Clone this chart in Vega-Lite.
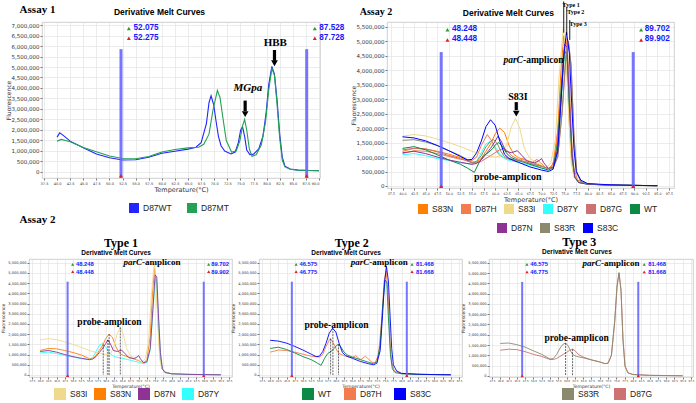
{
"$schema": "https://vega.github.io/schema/vega-lite/v6.json",
"padding": {"left": 0, "top": 0, "right": 0, "bottom": 0},
"background": "white",
"config": {
 "view": {"stroke": "#c4c4c4", "strokeWidth": 0.8},
 "axis": {"grid": true, "gridColor": "#e4e4e4", "gridWidth": 0.7, "domain": false, "tickColor": "#777", "tickSize": 2, "labelColor": "#333", "titleColor": "#333", "labelFont": "DejaVu Sans", "titleFont": "DejaVu Sans", "titleFontWeight": "normal"},
 "legend": {"orient": "none", "direction": "horizontal", "title": null, "symbolType": "square", "symbolOpacity": 1, "labelFont": "Liberation Sans", "labelColor": "#222", "padding": 0, "labelOffset": 4},
 "text": {"font": "Liberation Serif"}
},
"datasets": {
 "a1": [
  {"s":"D87WT","t":40,"f":1660000},{"s":"D87WT","t":40.5,"f":1870000},{"s":"D87WT","t":41,"f":1780000},{"s":"D87WT","t":42.5,"f":1470000},{"s":"D87WT","t":45,"f":1150000},{"s":"D87WT","t":47.5,"f":860000},{"s":"D87WT","t":50,"f":680000},{"s":"D87WT","t":52.5,"f":570000},{"s":"D87WT","t":55,"f":580000},{"s":"D87WT","t":57.5,"f":700000},{"s":"D87WT","t":60,"f":890000},{"s":"D87WT","t":62.5,"f":990000},{"s":"D87WT","t":65,"f":1090000},{"s":"D87WT","t":66.5,"f":1180000},{"s":"D87WT","t":67.5,"f":1400000},{"s":"D87WT","t":68.5,"f":2300000},{"s":"D87WT","t":69,"f":3300000},{"s":"D87WT","t":69.4,"f":3630000},{"s":"D87WT","t":69.9,"f":3200000},{"s":"D87WT","t":70.3,"f":2500000},{"s":"D87WT","t":70.8,"f":1700000},{"s":"D87WT","t":71.3,"f":1250000},{"s":"D87WT","t":72,"f":1000000},{"s":"D87WT","t":73.2,"f":860000},{"s":"D87WT","t":74,"f":950000},{"s":"D87WT","t":74.6,"f":1400000},{"s":"D87WT","t":75.05,"f":2000000},{"s":"D87WT","t":75.4,"f":2150000},{"s":"D87WT","t":75.8,"f":1700000},{"s":"D87WT","t":76.2,"f":1050000},{"s":"D87WT","t":76.8,"f":830000},{"s":"D87WT","t":77.5,"f":850000},{"s":"D87WT","t":78.5,"f":1100000},{"s":"D87WT","t":79.3,"f":1700000},{"s":"D87WT","t":79.9,"f":2800000},{"s":"D87WT","t":80.4,"f":4150000},{"s":"D87WT","t":81,"f":5030000},{"s":"D87WT","t":81.5,"f":4650000},{"s":"D87WT","t":82,"f":3400000},{"s":"D87WT","t":82.5,"f":1800000},{"s":"D87WT","t":83,"f":700000},{"s":"D87WT","t":83.5,"f":280000},{"s":"D87WT","t":84.5,"f":140000},{"s":"D87WT","t":86,"f":90000},{"s":"D87WT","t":88,"f":70000},{"s":"D87WT","t":90,"f":60000},
  {"s":"D87MT","t":40,"f":1470000},{"s":"D87MT","t":40.8,"f":1550000},{"s":"D87MT","t":42.5,"f":1440000},{"s":"D87MT","t":45,"f":1170000},{"s":"D87MT","t":47.5,"f":960000},{"s":"D87MT","t":50,"f":760000},{"s":"D87MT","t":52.5,"f":640000},{"s":"D87MT","t":55,"f":630000},{"s":"D87MT","t":57.5,"f":740000},{"s":"D87MT","t":60,"f":950000},{"s":"D87MT","t":62.5,"f":1070000},{"s":"D87MT","t":65,"f":1150000},{"s":"D87MT","t":67,"f":1180000},{"s":"D87MT","t":68,"f":1320000},{"s":"D87MT","t":69,"f":1800000},{"s":"D87MT","t":69.8,"f":3000000},{"s":"D87MT","t":70.6,"f":3880000},{"s":"D87MT","t":71.1,"f":3550000},{"s":"D87MT","t":71.7,"f":2500000},{"s":"D87MT","t":72.3,"f":1500000},{"s":"D87MT","t":73.3,"f":950000},{"s":"D87MT","t":74.2,"f":1000000},{"s":"D87MT","t":74.9,"f":1500000},{"s":"D87MT","t":75.4,"f":2200000},{"s":"D87MT","t":75.8,"f":2500000},{"s":"D87MT","t":76.2,"f":2000000},{"s":"D87MT","t":76.7,"f":1100000},{"s":"D87MT","t":77.2,"f":750000},{"s":"D87MT","t":78,"f":820000},{"s":"D87MT","t":79,"f":1300000},{"s":"D87MT","t":79.8,"f":2400000},{"s":"D87MT","t":80.4,"f":3900000},{"s":"D87MT","t":81,"f":4930000},{"s":"D87MT","t":81.5,"f":4600000},{"s":"D87MT","t":82,"f":3200000},{"s":"D87MT","t":82.5,"f":1600000},{"s":"D87MT","t":83,"f":550000},{"s":"D87MT","t":83.5,"f":240000},{"s":"D87MT","t":84.5,"f":130000},{"s":"D87MT","t":86,"f":90000},{"s":"D87MT","t":88,"f":70000},{"s":"D87MT","t":90,"f":60000}
 ],
 "a2": [
  {"s":"S83N","t":40,"f":1200000},{"s":"S83N","t":42.5,"f":1300000},{"s":"S83N","t":45,"f":1280000},{"s":"S83N","t":47.5,"f":1200000},{"s":"S83N","t":50,"f":1100000},{"s":"S83N","t":52.5,"f":980000},{"s":"S83N","t":55,"f":800000},{"s":"S83N","t":56,"f":820000},{"s":"S83N","t":57,"f":950000},{"s":"S83N","t":58,"f":1200000},{"s":"S83N","t":59,"f":1450000},{"s":"S83N","t":60,"f":1800000},{"s":"S83N","t":61,"f":2000000},{"s":"S83N","t":62,"f":1850000},{"s":"S83N","t":63,"f":1400000},{"s":"S83N","t":64,"f":1100000},{"s":"S83N","t":65,"f":980000},{"s":"S83N","t":67.5,"f":850000},{"s":"S83N","t":70,"f":700000},{"s":"S83N","t":71.5,"f":600000},{"s":"S83N","t":72.5,"f":750000},{"s":"S83N","t":73.5,"f":1900000},{"s":"S83N","t":74.2,"f":4000000},{"s":"S83N","t":74.8,"f":5200000},{"s":"S83N","t":75.4,"f":4400000},{"s":"S83N","t":76,"f":2200000},{"s":"S83N","t":76.5,"f":900000},{"s":"S83N","t":77.2,"f":300000},{"s":"S83N","t":78,"f":150000},{"s":"S83N","t":80,"f":60000},{"s":"S83N","t":85,"f":30000},{"s":"S83N","t":90,"f":20000},{"s":"S83N","t":95,"f":10000},
  {"s":"D87H","t":40,"f":1120000},{"s":"D87H","t":42.5,"f":1220000},{"s":"D87H","t":45,"f":1200000},{"s":"D87H","t":47.5,"f":1120000},{"s":"D87H","t":50,"f":1020000},{"s":"D87H","t":52.5,"f":920000},{"s":"D87H","t":55,"f":880000},{"s":"D87H","t":56,"f":1000000},{"s":"D87H","t":57,"f":1400000},{"s":"D87H","t":58.3,"f":1780000},{"s":"D87H","t":59.3,"f":1550000},{"s":"D87H","t":60.3,"f":1200000},{"s":"D87H","t":61,"f":1050000},{"s":"D87H","t":62,"f":980000},{"s":"D87H","t":63,"f":920000},{"s":"D87H","t":65,"f":850000},{"s":"D87H","t":66,"f":950000},{"s":"D87H","t":66.7,"f":850000},{"s":"D87H","t":67.5,"f":750000},{"s":"D87H","t":69,"f":920000},{"s":"D87H","t":69.8,"f":800000},{"s":"D87H","t":71,"f":620000},{"s":"D87H","t":72,"f":620000},{"s":"D87H","t":73,"f":1000000},{"s":"D87H","t":74,"f":2800000},{"s":"D87H","t":74.7,"f":4600000},{"s":"D87H","t":75.3,"f":5100000},{"s":"D87H","t":75.9,"f":4000000},{"s":"D87H","t":76.5,"f":1600000},{"s":"D87H","t":77,"f":600000},{"s":"D87H","t":77.8,"f":200000},{"s":"D87H","t":80,"f":70000},{"s":"D87H","t":85,"f":30000},{"s":"D87H","t":90,"f":20000},{"s":"D87H","t":95,"f":10000},
  {"s":"S83I","t":40,"f":1720000},{"s":"S83I","t":42.5,"f":1780000},{"s":"S83I","t":45,"f":1730000},{"s":"S83I","t":47.5,"f":1620000},{"s":"S83I","t":50,"f":1500000},{"s":"S83I","t":52.5,"f":1360000},{"s":"S83I","t":55,"f":1200000},{"s":"S83I","t":57.5,"f":1080000},{"s":"S83I","t":60,"f":1000000},{"s":"S83I","t":61.5,"f":1050000},{"s":"S83I","t":62.5,"f":1450000},{"s":"S83I","t":63.5,"f":2050000},{"s":"S83I","t":64.4,"f":2330000},{"s":"S83I","t":65.3,"f":2000000},{"s":"S83I","t":66.3,"f":1300000},{"s":"S83I","t":67.5,"f":950000},{"s":"S83I","t":68.5,"f":850000},{"s":"S83I","t":70,"f":720000},{"s":"S83I","t":71,"f":620000},{"s":"S83I","t":72,"f":800000},{"s":"S83I","t":73,"f":1600000},{"s":"S83I","t":73.8,"f":3800000},{"s":"S83I","t":74.7,"f":5450000},{"s":"S83I","t":75.3,"f":4600000},{"s":"S83I","t":75.9,"f":2300000},{"s":"S83I","t":76.4,"f":800000},{"s":"S83I","t":77,"f":300000},{"s":"S83I","t":78,"f":150000},{"s":"S83I","t":80,"f":60000},{"s":"S83I","t":85,"f":30000},{"s":"S83I","t":90,"f":20000},{"s":"S83I","t":95,"f":10000},
  {"s":"D87Y","t":40,"f":1080000},{"s":"D87Y","t":42.5,"f":1120000},{"s":"D87Y","t":45,"f":1050000},{"s":"D87Y","t":47.5,"f":950000},{"s":"D87Y","t":50,"f":880000},{"s":"D87Y","t":52.5,"f":800000},{"s":"D87Y","t":55,"f":750000},{"s":"D87Y","t":56,"f":850000},{"s":"D87Y","t":57,"f":1150000},{"s":"D87Y","t":58,"f":1450000},{"s":"D87Y","t":59,"f":1550000},{"s":"D87Y","t":60,"f":1350000},{"s":"D87Y","t":61,"f":1100000},{"s":"D87Y","t":62,"f":950000},{"s":"D87Y","t":63,"f":880000},{"s":"D87Y","t":65,"f":820000},{"s":"D87Y","t":67.5,"f":720000},{"s":"D87Y","t":70,"f":620000},{"s":"D87Y","t":71.5,"f":550000},{"s":"D87Y","t":72.5,"f":620000},{"s":"D87Y","t":73.5,"f":1200000},{"s":"D87Y","t":74.3,"f":3000000},{"s":"D87Y","t":75,"f":4700000},{"s":"D87Y","t":75.5,"f":4600000},{"s":"D87Y","t":76,"f":2800000},{"s":"D87Y","t":76.6,"f":1000000},{"s":"D87Y","t":77.2,"f":300000},{"s":"D87Y","t":78,"f":120000},{"s":"D87Y","t":80,"f":60000},{"s":"D87Y","t":85,"f":30000},{"s":"D87Y","t":90,"f":20000},{"s":"D87Y","t":95,"f":10000},
  {"s":"D87G","t":40,"f":1250000},{"s":"D87G","t":42.5,"f":1300000},{"s":"D87G","t":45,"f":1280000},{"s":"D87G","t":47.5,"f":1180000},{"s":"D87G","t":50,"f":1050000},{"s":"D87G","t":52.5,"f":950000},{"s":"D87G","t":55,"f":800000},{"s":"D87G","t":56,"f":800000},{"s":"D87G","t":57,"f":850000},{"s":"D87G","t":58,"f":950000},{"s":"D87G","t":59,"f":1050000},{"s":"D87G","t":60,"f":1150000},{"s":"D87G","t":61,"f":1250000},{"s":"D87G","t":61.8,"f":1300000},{"s":"D87G","t":62.6,"f":1220000},{"s":"D87G","t":63.5,"f":1050000},{"s":"D87G","t":65,"f":920000},{"s":"D87G","t":67.5,"f":780000},{"s":"D87G","t":70,"f":680000},{"s":"D87G","t":71.5,"f":600000},{"s":"D87G","t":72.5,"f":620000},{"s":"D87G","t":73.5,"f":1000000},{"s":"D87G","t":74.5,"f":2600000},{"s":"D87G","t":75.2,"f":4300000},{"s":"D87G","t":75.8,"f":5000000},{"s":"D87G","t":76.4,"f":4200000},{"s":"D87G","t":77,"f":1800000},{"s":"D87G","t":77.6,"f":500000},{"s":"D87G","t":78.5,"f":150000},{"s":"D87G","t":80,"f":70000},{"s":"D87G","t":85,"f":30000},{"s":"D87G","t":90,"f":20000},{"s":"D87G","t":95,"f":10000},
  {"s":"WT","t":40,"f":1300000},{"s":"WT","t":42.5,"f":1360000},{"s":"WT","t":45,"f":1250000},{"s":"WT","t":47.5,"f":1080000},{"s":"WT","t":50,"f":900000},{"s":"WT","t":52.5,"f":750000},{"s":"WT","t":54,"f":620000},{"s":"WT","t":55.5,"f":470000},{"s":"WT","t":56.5,"f":800000},{"s":"WT","t":57.5,"f":1050000},{"s":"WT","t":58.5,"f":1150000},{"s":"WT","t":59.5,"f":1300000},{"s":"WT","t":60.2,"f":1450000},{"s":"WT","t":60.8,"f":1500000},{"s":"WT","t":61.5,"f":1380000},{"s":"WT","t":62.5,"f":1120000},{"s":"WT","t":63.5,"f":980000},{"s":"WT","t":65,"f":880000},{"s":"WT","t":67.5,"f":750000},{"s":"WT","t":70,"f":620000},{"s":"WT","t":71.5,"f":550000},{"s":"WT","t":72.5,"f":650000},{"s":"WT","t":73.5,"f":1500000},{"s":"WT","t":74.3,"f":3500000},{"s":"WT","t":75,"f":4650000},{"s":"WT","t":75.5,"f":4550000},{"s":"WT","t":76,"f":2800000},{"s":"WT","t":76.6,"f":1000000},{"s":"WT","t":77.2,"f":300000},{"s":"WT","t":78,"f":120000},{"s":"WT","t":80,"f":60000},{"s":"WT","t":85,"f":30000},{"s":"WT","t":90,"f":20000},{"s":"WT","t":95,"f":10000},
  {"s":"D87N","t":40,"f":1150000},{"s":"D87N","t":42.5,"f":1200000},{"s":"D87N","t":45,"f":1120000},{"s":"D87N","t":47.5,"f":1000000},{"s":"D87N","t":50,"f":900000},{"s":"D87N","t":52.5,"f":820000},{"s":"D87N","t":55,"f":750000},{"s":"D87N","t":56,"f":780000},{"s":"D87N","t":57,"f":900000},{"s":"D87N","t":58,"f":1100000},{"s":"D87N","t":59,"f":1300000},{"s":"D87N","t":60,"f":1550000},{"s":"D87N","t":60.6,"f":1720000},{"s":"D87N","t":61.3,"f":1550000},{"s":"D87N","t":62.3,"f":1200000},{"s":"D87N","t":63.5,"f":1150000},{"s":"D87N","t":64.8,"f":1220000},{"s":"D87N","t":65.8,"f":1050000},{"s":"D87N","t":67,"f":850000},{"s":"D87N","t":68.5,"f":800000},{"s":"D87N","t":69.5,"f":880000},{"s":"D87N","t":70,"f":950000},{"s":"D87N","t":70.5,"f":800000},{"s":"D87N","t":71.5,"f":600000},{"s":"D87N","t":72.5,"f":650000},{"s":"D87N","t":73.5,"f":1300000},{"s":"D87N","t":74.3,"f":3200000},{"s":"D87N","t":75,"f":4900000},{"s":"D87N","t":75.5,"f":4800000},{"s":"D87N","t":76,"f":3000000},{"s":"D87N","t":76.6,"f":1100000},{"s":"D87N","t":77.2,"f":300000},{"s":"D87N","t":78,"f":120000},{"s":"D87N","t":80,"f":60000},{"s":"D87N","t":85,"f":30000},{"s":"D87N","t":90,"f":20000},{"s":"D87N","t":95,"f":10000},
  {"s":"S83R","t":40,"f":1580000},{"s":"S83R","t":42.5,"f":1600000},{"s":"S83R","t":45,"f":1520000},{"s":"S83R","t":47.5,"f":1400000},{"s":"S83R","t":50,"f":1220000},{"s":"S83R","t":52.5,"f":1050000},{"s":"S83R","t":55,"f":820000},{"s":"S83R","t":56,"f":850000},{"s":"S83R","t":57,"f":1050000},{"s":"S83R","t":58,"f":1350000},{"s":"S83R","t":59,"f":1550000},{"s":"S83R","t":59.7,"f":1600000},{"s":"S83R","t":60.5,"f":1450000},{"s":"S83R","t":61.3,"f":1180000},{"s":"S83R","t":62,"f":1020000},{"s":"S83R","t":63,"f":950000},{"s":"S83R","t":65,"f":880000},{"s":"S83R","t":67.5,"f":780000},{"s":"S83R","t":70,"f":680000},{"s":"S83R","t":71.5,"f":600000},{"s":"S83R","t":72.5,"f":620000},{"s":"S83R","t":73.5,"f":1000000},{"s":"S83R","t":74.5,"f":2700000},{"s":"S83R","t":75.2,"f":4400000},{"s":"S83R","t":75.8,"f":5020000},{"s":"S83R","t":76.4,"f":4100000},{"s":"S83R","t":77,"f":1700000},{"s":"S83R","t":77.6,"f":450000},{"s":"S83R","t":78.5,"f":150000},{"s":"S83R","t":80,"f":70000},{"s":"S83R","t":85,"f":30000},{"s":"S83R","t":90,"f":20000},{"s":"S83R","t":95,"f":10000},
  {"s":"S83C","t":40,"f":1700000},{"s":"S83C","t":42.5,"f":1660000},{"s":"S83C","t":45,"f":1560000},{"s":"S83C","t":47.5,"f":1400000},{"s":"S83C","t":50,"f":1220000},{"s":"S83C","t":52.5,"f":1020000},{"s":"S83C","t":54,"f":900000},{"s":"S83C","t":55,"f":920000},{"s":"S83C","t":56,"f":1150000},{"s":"S83C","t":57,"f":1550000},{"s":"S83C","t":58,"f":2050000},{"s":"S83C","t":59,"f":2290000},{"s":"S83C","t":60,"f":2100000},{"s":"S83C","t":61,"f":1550000},{"s":"S83C","t":62,"f":1100000},{"s":"S83C","t":63,"f":950000},{"s":"S83C","t":64,"f":880000},{"s":"S83C","t":65,"f":820000},{"s":"S83C","t":67.5,"f":660000},{"s":"S83C","t":70,"f":550000},{"s":"S83C","t":71.5,"f":500000},{"s":"S83C","t":72.5,"f":580000},{"s":"S83C","t":73.5,"f":1200000},{"s":"S83C","t":74.2,"f":2900000},{"s":"S83C","t":74.8,"f":4500000},{"s":"S83C","t":75.4,"f":5320000},{"s":"S83C","t":76,"f":4600000},{"s":"S83C","t":76.5,"f":2900000},{"s":"S83C","t":77,"f":1300000},{"s":"S83C","t":77.5,"f":500000},{"s":"S83C","t":78.5,"f":200000},{"s":"S83C","t":80,"f":80000},{"s":"S83C","t":85,"f":40000},{"s":"S83C","t":90,"f":20000},{"s":"S83C","t":95,"f":10000}
 ]
},
"spacing": -8,
"resolve": {"scale": {"color": "independent"}},
"vconcat": [
 {
  "spacing": 12,
  "bounds": "flush",
  "resolve": {"scale": {"color": "independent"}},
  "hconcat": [
   {"width": 1, "height": 1, "view": {"stroke": null}, "data": {"values": [{"a": 0}]}, "mark": {"type": "point", "opacity": 0}, "encoding": {}},
   {
    "spacing": 67,
    "bounds": "flush",
    "resolve": {"scale": {"color": "independent"}},
    "hconcat": [
     {
      "width": 278, "height": 156,
      "encoding": {
       "x": {"field": "t", "type": "quantitative", "scale": {"domain": [37.12, 90.19], "nice": false, "zero": false},
             "axis": {"values": [37.5,40,42.5,45,47.5,50,52.5,55,57.5,60,62.5,65,67.5,70,72.5,75,77.5,80,82.5,85,87.5,90], "labelExpr": "format(datum.value, '.1f')", "labelFontSize": 3.5, "labelPadding": 1, "title": "Temperature(°C)", "titleFontSize": 6.5, "titlePadding": 2}},
       "y": {"field": "f", "type": "quantitative", "scale": {"domain": [-286000, 7143000], "nice": false, "zero": false},
             "axis": {"values": [0,500000,1000000,1500000,2000000,2500000,3000000,3500000,4000000,4500000,5000000,5500000,6000000,6500000,7000000], "labelExpr": "format(datum.value, ',')", "labelFontSize": 5.5, "labelPadding": 1, "title": "Fluorescence", "titleFontSize": 6, "titlePadding": 0}}
      },
      "layer": [
       {"data": {"name": "a1"}, "mark": {"type": "line", "strokeWidth": 1.1},
        "encoding": {"color": {"field": "s", "type": "nominal", "scale": {"domain": ["D87WT", "D87MT"], "range": ["#2424ff", "#23a155"]},
          "legend": {"legendX": 87, "legendY": 181, "symbolSize": 16, "symbolStrokeWidth": 6, "labelFontSize": 8.5, "columnPadding": 6}}}},
       {"data": {"values": [{"t": 52.2, "f": 5850000}, {"t": 87.65, "f": 5850000}]}, "mark": {"type": "rule", "color": "#6666ff", "strokeWidth": 3, "opacity": 0.9}, "encoding": {"y2": {"datum": -286000}}},
       {"data": {"values": [{"t": 53.7, "f": 6830000}, {"t": 89.2, "f": 6830000}]}, "mark": {"type": "point", "shape": "triangle-up", "filled": true, "color": "#2a9d2a", "size": 16, "opacity": 1}},
       {"data": {"values": [{"t": 53.7, "f": 6370000}, {"t": 89.2, "f": 6370000}, {"t": 52.2, "f": -180000}, {"t": 87.65, "f": -180000}]}, "mark": {"type": "point", "shape": "triangle-up", "filled": true, "color": "#e02020", "size": 16, "opacity": 1}},
       {"data": {"values": [{"t": 54.6, "f": 6840000, "label": "52.075"}, {"t": 54.6, "f": 6370000, "label": "52.275"}, {"t": 90.06, "f": 6840000, "label": "87.528"}, {"t": 90.06, "f": 6370000, "label": "87.728"}]},
        "mark": {"type": "text", "align": "left", "baseline": "middle", "font": "Liberation Sans", "fontSize": 8.2, "fontWeight": "bold", "color": "#1818ff"}, "encoding": {"text": {"field": "label"}}},
       {"data": {"values": [{"t": 81.5, "f": 5810000, "f2": 5300000}, {"t": 75.9, "f": 3400000, "f2": 2900000}]}, "mark": {"type": "rule", "color": "#000", "strokeWidth": 3.2}, "encoding": {"y2": {"field": "f2"}}},
       {"data": {"values": [{"t": 81.5, "f": 5180000}, {"t": 75.9, "f": 2760000}]}, "mark": {"type": "point", "shape": "triangle-down", "filled": true, "color": "#000", "size": 45, "opacity": 1}},
       {"data": {"values": [{"t": 59.55, "f": 7620000, "label": "Derivative Melt Curves"}]}, "mark": {"type": "text", "font": "Liberation Sans", "fontSize": 8.5, "fontWeight": "bold", "color": "#000"}, "encoding": {"text": {"field": "label"}}},
       {"data": {"values": [{"t": 81.66, "f": 6160000, "label": "HBB"}]}, "mark": {"type": "text", "fontSize": 11, "fontWeight": "bold", "color": "#000"}, "encoding": {"text": {"field": "label"}}},
       {"data": {"values": [{"t": 76.4, "f": 3980000, "label": "MGpa"}]}, "mark": {"type": "text", "fontSize": 11, "fontWeight": "bold", "fontStyle": "italic", "color": "#000"}, "encoding": {"text": {"field": "label"}}},
       {"data": {"values": [{"t": 36.26, "f": 7710000, "label": "Assay 1"}, {"t": 36.26, "f": -2290000, "label": "Assay 2"}]}, "mark": {"type": "text", "fontSize": 11, "fontWeight": "bold", "color": "#000"}, "encoding": {"text": {"field": "label"}}}
      ]
     },
     {
      "width": 287, "height": 166,
      "resolve": {"scale": {"color": "independent"}},
      "encoding": {
       "x": {"field": "t", "type": "quantitative", "scale": {"domain": [36.65, 98.6], "nice": false, "zero": false},
             "axis": {"values": [37.5,40,42.5,45,47.5,50,52.5,55,57.5,60,62.5,65,67.5,70,72.5,75,77.5,80,82.5,85,87.5,90,92.5,95,97.5], "labelExpr": "format(datum.value, '.1f')", "labelFontSize": 3.3, "labelPadding": 1, "title": "Temperature(°C)", "titleFontSize": 6.5, "titlePadding": 2}},
       "y": {"field": "f", "type": "quantitative", "scale": {"domain": [-70000, 5670000], "nice": false, "zero": false},
             "axis": {"values": [0,500000,1000000,1500000,2000000,2500000,3000000,3500000,4000000,4500000,5000000,5500000], "labelExpr": "format(datum.value, ',')", "labelFontSize": 5.5, "labelPadding": 1, "title": "Fluorescence", "titleFontSize": 6, "titlePadding": 0}}
      },
      "layer": [
       {"data": {"name": "a2"}, "transform": [{"filter": {"field": "s", "oneOf": ["S83N", "D87H", "S83I", "D87Y", "D87G", "WT"]}}], "mark": {"type": "line", "strokeWidth": 1},
        "encoding": {"color": {"field": "s", "type": "nominal", "scale": {"domain": ["S83N", "D87H", "S83I", "D87Y", "D87G", "WT"], "range": ["#ff8000", "#f47c4c", "#efd98c", "#33ffff", "#cc7272", "#0b8a45"]},
          "legend": {"legendX": 31, "legendY": 182, "symbolSize": 16, "symbolStrokeWidth": 6, "labelFontSize": 8.5, "columnPadding": -2}}}},
       {"data": {"name": "a2"}, "transform": [{"filter": {"field": "s", "oneOf": ["D87N", "S83R", "S83C"]}}], "mark": {"type": "line", "strokeWidth": 1},
        "encoding": {"color": {"field": "s", "type": "nominal", "scale": {"domain": ["D87N", "S83R", "S83C"], "range": ["#8e3393", "#8b8a6e", "#0000ff"]},
          "legend": {"legendX": 110, "legendY": 201, "symbolSize": 16, "symbolStrokeWidth": 6, "labelFontSize": 8.5, "columnPadding": -2}}}},
       {"data": {"values": [{"t": 48.35, "f": 4630000}, {"t": 89.8, "f": 4630000}]}, "mark": {"type": "rule", "color": "#6666ff", "strokeWidth": 3, "opacity": 0.9}, "encoding": {"y2": {"datum": -70000}}},
       {"data": {"values": [{"t": 49.7, "f": 5400000}, {"t": 91.5, "f": 5400000}]}, "mark": {"type": "point", "shape": "triangle-up", "filled": true, "color": "#2a9d2a", "size": 16, "opacity": 1}},
       {"data": {"values": [{"t": 49.7, "f": 5050000}, {"t": 91.5, "f": 5050000}, {"t": 48.35, "f": -10000}, {"t": 89.8, "f": -10000}]}, "mark": {"type": "point", "shape": "triangle-up", "filled": true, "color": "#e02020", "size": 16, "opacity": 1}},
       {"data": {"values": [{"t": 50.67, "f": 5420000, "label": "48.248"}, {"t": 50.67, "f": 5080000, "label": "48.448"}, {"t": 92.3, "f": 5420000, "label": "89.702"}, {"t": 92.3, "f": 5080000, "label": "89.902"}]},
        "mark": {"type": "text", "align": "left", "baseline": "middle", "font": "Liberation Sans", "fontSize": 8.2, "fontWeight": "bold", "color": "#1818ff"}, "encoding": {"text": {"field": "label"}}},
       {"data": {"values": [{"t": 74.8, "f": 6380000, "f2": 5300000}, {"t": 75.45, "f": 6200000, "f2": 5220000}, {"t": 76.1, "f": 5740000, "f2": 5050000}]}, "mark": {"type": "rule", "color": "#000", "strokeWidth": 0.9}, "encoding": {"y2": {"field": "f2"}}},
       {"data": {"values": [{"t": 76.4, "f": 6260000, "label": "Type 1"}, {"t": 77.4, "f": 6030000, "label": "Type 2"}, {"t": 77.9, "f": 5600000, "label": "Type 3"}]}, "mark": {"type": "text", "fontSize": 6, "fontWeight": "bold", "color": "#000"}, "encoding": {"text": {"field": "label"}}},
       {"data": {"values": [{"t": 64.55, "f": 2900000, "f2": 2620000}]}, "mark": {"type": "rule", "color": "#000", "strokeWidth": 3.2}, "encoding": {"y2": {"field": "f2"}}},
       {"data": {"values": [{"t": 64.55, "f": 2500000}]}, "mark": {"type": "point", "shape": "triangle-down", "filled": true, "color": "#000", "size": 45, "opacity": 1}},
       {"data": {"values": [{"t": 62.86, "f": 5990000, "label": "Derivative Melt Curves"}]}, "mark": {"type": "text", "font": "Liberation Sans", "fontSize": 8.5, "fontWeight": "bold", "color": "#000"}, "encoding": {"text": {"field": "label"}}},
       {"data": {"values": [{"t": 66.0, "f": 4340000, "label": "parC"}]}, "mark": {"type": "text", "align": "right", "fontSize": 9.5, "fontWeight": "bold", "fontStyle": "italic", "color": "#000"}, "encoding": {"text": {"field": "label"}}},
       {"data": {"values": [{"t": 66.0, "f": 4340000, "label": "-amplicon"}]}, "mark": {"type": "text", "align": "left", "fontSize": 9.5, "fontWeight": "bold", "color": "#000"}, "encoding": {"text": {"field": "label"}}},
       {"data": {"values": [{"t": 62.7, "f": 320000, "label": "probe-amplicon"}, {"t": 64.9, "f": 3090000, "label": "S83I"}, {"t": 34.26, "f": 6020000, "label": "Assay 2"}]}, "mark": {"type": "text", "fontSize": 10, "fontWeight": "bold", "color": "#000"}, "encoding": {"text": {"field": "label"}}}
      ]
     }
    ]
   }
  ]
 },
 {
  "spacing": 27,
  "bounds": "flush",
  "resolve": {"scale": {"color": "independent"}},
  "hconcat": [
   {
    "width": 203, "height": 118,
    "encoding": {
     "x": {"field": "t", "type": "quantitative", "scale": {"domain": [36.6, 98.4], "nice": false, "zero": false},
           "axis": {"values": [37.5,40,42.5,45,47.5,50,52.5,55,57.5,60,62.5,65,67.5,70,72.5,75,77.5,80,82.5,85,87.5,90,92.5,95,97.5], "labelExpr": "format(datum.value, '.1f')", "labelFontSize": 2.6, "labelPadding": 1, "title": "Temperature(°C)", "titleFontSize": 4.5, "titlePadding": 1}},
     "y": {"field": "f", "type": "quantitative", "scale": {"domain": [-98000, 5680000], "nice": false, "zero": false},
           "axis": {"values": [0,500000,1000000,1500000,2000000,2500000,3000000,3500000,4000000,4500000,5000000,5500000], "labelExpr": "format(datum.value, ',')", "labelFontSize": 3.6, "labelPadding": 1, "title": "Fluorescence", "titleFontSize": 4.5, "titlePadding": 2}}
    },
    "layer": [
     {"data": {"name": "a2"}, "transform": [{"filter": {"field": "s", "oneOf": ["S83I", "S83N", "D87N", "D87Y"]}}], "mark": {"type": "line", "strokeWidth": 0.9},
      "encoding": {"color": {"field": "s", "type": "nominal", "scale": {"domain": ["S83I", "S83N", "D87N", "D87Y"], "range": ["#efd98c", "#ff8000", "#8e3393", "#33ffff"]},
        "legend": {"legendX": 25, "legendY": 129, "symbolSize": 36, "symbolStrokeWidth": 6, "labelFontSize": 8.5, "columnPadding": -3}}}},
     {"data": {"values": [{"t": 59.2, "f": 1500000}, {"t": 60.6, "f": 1720000}, {"t": 61.0, "f": 2000000}, {"t": 64.4, "f": 2330000}]}, "mark": {"type": "rule", "color": "#000", "strokeWidth": 0.6, "strokeDash": [2, 1]}, "encoding": {"y2": {"datum": 0}}},
     {"data": {"values": [{"t": 48.35, "f": 4570000}, {"t": 89.8, "f": 4570000}]}, "mark": {"type": "rule", "color": "#6666ff", "strokeWidth": 2, "opacity": 0.9}, "encoding": {"y2": {"datum": -98000}}},
     {"data": {"values": [{"t": 49.9, "f": 5420000}, {"t": 91.3, "f": 5420000}]}, "mark": {"type": "point", "shape": "triangle-up", "filled": true, "color": "#2a9d2a", "size": 10, "opacity": 1}},
     {"data": {"values": [{"t": 49.9, "f": 5060000}, {"t": 91.3, "f": 5060000}, {"t": 48.35, "f": -30000}, {"t": 89.8, "f": -30000}]}, "mark": {"type": "point", "shape": "triangle-up", "filled": true, "color": "#e02020", "size": 10, "opacity": 1}},
     {"data": {"values": [{"t": 50.9, "f": 5420000, "label": "48.248"}, {"t": 50.9, "f": 5060000, "label": "48.448"}, {"t": 92.1, "f": 5420000, "label": "89.702"}, {"t": 92.1, "f": 5060000, "label": "89.902"}]},
      "mark": {"type": "text", "align": "left", "baseline": "middle", "font": "Liberation Sans", "fontSize": 5.8, "fontWeight": "bold", "color": "#1818ff"}, "encoding": {"text": {"field": "label"}}},
     {"data": {"values": [{"t": 71.0, "f": 5550000, "label": "parC"}]}, "mark": {"type": "text", "align": "right", "fontSize": 9, "fontWeight": "bold", "fontStyle": "italic", "color": "#000"}, "encoding": {"text": {"field": "label"}}},
     {"data": {"values": [{"t": 71.0, "f": 5550000, "label": "-amplicon"}]}, "mark": {"type": "text", "align": "left", "fontSize": 9, "fontWeight": "bold", "color": "#000"}, "encoding": {"text": {"field": "label"}}},
     {"data": {"values": [{"t": 61.1, "f": 2610000, "label": "probe-amplicon"}]}, "mark": {"type": "text", "fontSize": 9.5, "fontWeight": "bold", "color": "#000"}, "encoding": {"text": {"field": "label"}}},
     {"data": {"values": [{"t": 64.6, "f": 6460000, "label": "Type 1"}]}, "mark": {"type": "text", "fontSize": 12, "fontWeight": "bold", "color": "#000"}, "encoding": {"text": {"field": "label"}}},
     {"data": {"values": [{"t": 63.1, "f": 5970000, "label": "Derivative Melt Curves"}]}, "mark": {"type": "text", "font": "Liberation Sans", "fontSize": 6.5, "fontWeight": "bold", "color": "#000"}, "encoding": {"text": {"field": "label"}}}
    ]
   },
   {
    "width": 203, "height": 118,
    "encoding": {
     "x": {"field": "t", "type": "quantitative", "scale": {"domain": [36.6, 98.4], "nice": false, "zero": false},
           "axis": {"values": [37.5,40,42.5,45,47.5,50,52.5,55,57.5,60,62.5,65,67.5,70,72.5,75,77.5,80,82.5,85,87.5,90,92.5,95,97.5], "labelExpr": "format(datum.value, '.1f')", "labelFontSize": 2.6, "labelPadding": 1, "title": "Temperature(°C)", "titleFontSize": 4.5, "titlePadding": 1}},
     "y": {"field": "f", "type": "quantitative", "scale": {"domain": [-98000, 5680000], "nice": false, "zero": false},
           "axis": {"values": [0,500000,1000000,1500000,2000000,2500000,3000000,3500000,4000000,4500000,5000000,5500000], "labelExpr": "format(datum.value, ',')", "labelFontSize": 3.6, "labelPadding": 1, "title": "Fluorescence", "titleFontSize": 4.5, "titlePadding": 2}}
    },
    "layer": [
     {"data": {"name": "a2"}, "transform": [{"filter": {"field": "s", "oneOf": ["WT", "D87H", "S83C"]}}], "mark": {"type": "line", "strokeWidth": 0.9},
      "encoding": {"color": {"field": "s", "type": "nominal", "scale": {"domain": ["WT", "D87H", "S83C"], "range": ["#0b8a45", "#f47c4c", "#0000ff"]},
        "legend": {"legendX": 43, "legendY": 129, "symbolSize": 36, "symbolStrokeWidth": 6, "labelFontSize": 8.5, "columnPadding": 3}}}},
     {"data": {"values": [{"t": 58.4, "f": 1780000}, {"t": 59.1, "f": 2290000}, {"t": 60.8, "f": 1500000}]}, "mark": {"type": "rule", "color": "#000", "strokeWidth": 0.6, "strokeDash": [2, 1]}, "encoding": {"y2": {"datum": 0}}},
     {"data": {"values": [{"t": 46.6, "f": 4570000}, {"t": 81.6, "f": 4570000}]}, "mark": {"type": "rule", "color": "#6666ff", "strokeWidth": 2, "opacity": 0.9}, "encoding": {"y2": {"datum": -98000}}},
     {"data": {"values": [{"t": 47.9, "f": 5420000}, {"t": 83.2, "f": 5420000}]}, "mark": {"type": "point", "shape": "triangle-up", "filled": true, "color": "#2a9d2a", "size": 10, "opacity": 1}},
     {"data": {"values": [{"t": 47.9, "f": 5060000}, {"t": 83.2, "f": 5060000}, {"t": 46.6, "f": -30000}, {"t": 81.6, "f": -30000}]}, "mark": {"type": "point", "shape": "triangle-up", "filled": true, "color": "#e02020", "size": 10, "opacity": 1}},
     {"data": {"values": [{"t": 48.9, "f": 5420000, "label": "46.575"}, {"t": 48.9, "f": 5060000, "label": "46.775"}, {"t": 84.4, "f": 5420000, "label": "81.468"}, {"t": 84.4, "f": 5060000, "label": "81.668"}]},
      "mark": {"type": "text", "align": "left", "baseline": "middle", "font": "Liberation Sans", "fontSize": 5.8, "fontWeight": "bold", "color": "#1818ff"}, "encoding": {"text": {"field": "label"}}},
     {"data": {"values": [{"t": 70.2, "f": 5550000, "label": "parC"}]}, "mark": {"type": "text", "align": "right", "fontSize": 9, "fontWeight": "bold", "fontStyle": "italic", "color": "#000"}, "encoding": {"text": {"field": "label"}}},
     {"data": {"values": [{"t": 70.2, "f": 5550000, "label": "-amplicon"}]}, "mark": {"type": "text", "align": "left", "fontSize": 9, "fontWeight": "bold", "color": "#000"}, "encoding": {"text": {"field": "label"}}},
     {"data": {"values": [{"t": 60.2, "f": 2450000, "label": "probe-amplicon"}]}, "mark": {"type": "text", "fontSize": 9.5, "fontWeight": "bold", "color": "#000"}, "encoding": {"text": {"field": "label"}}},
     {"data": {"values": [{"t": 64.85, "f": 6470000, "label": "Type 2"}]}, "mark": {"type": "text", "fontSize": 12, "fontWeight": "bold", "color": "#000"}, "encoding": {"text": {"field": "label"}}},
     {"data": {"values": [{"t": 63.1, "f": 5990000, "label": "Derivative Melt Curves"}]}, "mark": {"type": "text", "font": "Liberation Sans", "fontSize": 6.5, "fontWeight": "bold", "color": "#000"}, "encoding": {"text": {"field": "label"}}}
    ]
   },
   {
    "width": 204, "height": 118,
    "encoding": {
     "x": {"field": "t", "type": "quantitative", "scale": {"domain": [36.6, 98.1], "nice": false, "zero": false},
           "axis": {"values": [37.5,40,42.5,45,47.5,50,52.5,55,57.5,60,62.5,65,67.5,70,72.5,75,77.5,80,82.5,85,87.5,90,92.5,95,97.5], "labelExpr": "format(datum.value, '.1f')", "labelFontSize": 2.6, "labelPadding": 1, "title": "Temperature(°C)", "titleFontSize": 4.5, "titlePadding": 1}},
     "y": {"field": "f", "type": "quantitative", "scale": {"domain": [-50000, 5680000], "nice": false, "zero": false},
           "axis": {"values": [0,500000,1000000,1500000,2000000,2500000,3000000,3500000,4000000,4500000,5000000,5500000], "labelExpr": "format(datum.value, ',')", "labelFontSize": 3.6, "labelPadding": 1, "title": "Fluorescence", "titleFontSize": 4.5, "titlePadding": 2}}
    },
    "layer": [
     {"data": {"name": "a2"}, "transform": [{"filter": {"field": "s", "oneOf": ["S83R", "D87G"]}}], "mark": {"type": "line", "strokeWidth": 0.9},
      "encoding": {"color": {"field": "s", "type": "nominal", "scale": {"domain": ["S83R", "D87G"], "range": ["#8b8a6e", "#cc7272"]},
        "legend": {"legendX": 73, "legendY": 129, "symbolSize": 36, "symbolStrokeWidth": 6, "labelFontSize": 8.5, "columnPadding": 5}}}},
     {"data": {"values": [{"t": 59.7, "f": 1600000}, {"t": 61.8, "f": 1300000}]}, "mark": {"type": "rule", "color": "#000", "strokeWidth": 0.6, "strokeDash": [2, 1]}, "encoding": {"y2": {"datum": 0}}},
     {"data": {"values": [{"t": 46.6, "f": 4570000}, {"t": 81.6, "f": 4570000}]}, "mark": {"type": "rule", "color": "#6666ff", "strokeWidth": 2, "opacity": 0.9}, "encoding": {"y2": {"datum": -50000}}},
     {"data": {"values": [{"t": 48.05, "f": 5420000}, {"t": 83.4, "f": 5420000}]}, "mark": {"type": "point", "shape": "triangle-up", "filled": true, "color": "#2a9d2a", "size": 10, "opacity": 1}},
     {"data": {"values": [{"t": 48.05, "f": 5060000}, {"t": 83.4, "f": 5060000}, {"t": 46.6, "f": 10000}, {"t": 81.6, "f": 10000}]}, "mark": {"type": "point", "shape": "triangle-up", "filled": true, "color": "#e02020", "size": 10, "opacity": 1}},
     {"data": {"values": [{"t": 49.05, "f": 5420000, "label": "46.575"}, {"t": 49.05, "f": 5060000, "label": "46.775"}, {"t": 84.6, "f": 5420000, "label": "81.468"}, {"t": 84.6, "f": 5060000, "label": "81.668"}]},
      "mark": {"type": "text", "align": "left", "baseline": "middle", "font": "Liberation Sans", "fontSize": 5.8, "fontWeight": "bold", "color": "#1818ff"}, "encoding": {"text": {"field": "label"}}},
     {"data": {"values": [{"t": 70.4, "f": 5500000, "label": "parC"}]}, "mark": {"type": "text", "align": "right", "fontSize": 9, "fontWeight": "bold", "fontStyle": "italic", "color": "#000"}, "encoding": {"text": {"field": "label"}}},
     {"data": {"values": [{"t": 70.4, "f": 5500000, "label": "-amplicon"}]}, "mark": {"type": "text", "align": "left", "fontSize": 9, "fontWeight": "bold", "color": "#000"}, "encoding": {"text": {"field": "label"}}},
     {"data": {"values": [{"t": 63.0, "f": 1840000, "label": "probe-amplicon"}]}, "mark": {"type": "text", "fontSize": 9.5, "fontWeight": "bold", "color": "#000"}, "encoding": {"text": {"field": "label"}}},
     {"data": {"values": [{"t": 63.8, "f": 6520000, "label": "Type 3"}]}, "mark": {"type": "text", "fontSize": 12, "fontWeight": "bold", "color": "#000"}, "encoding": {"text": {"field": "label"}}},
     {"data": {"values": [{"t": 63.1, "f": 6030000, "label": "Derivative Melt Curves"}]}, "mark": {"type": "text", "font": "Liberation Sans", "fontSize": 6.5, "fontWeight": "bold", "color": "#000"}, "encoding": {"text": {"field": "label"}}}
    ]
   }
  ]
 }
]
}
